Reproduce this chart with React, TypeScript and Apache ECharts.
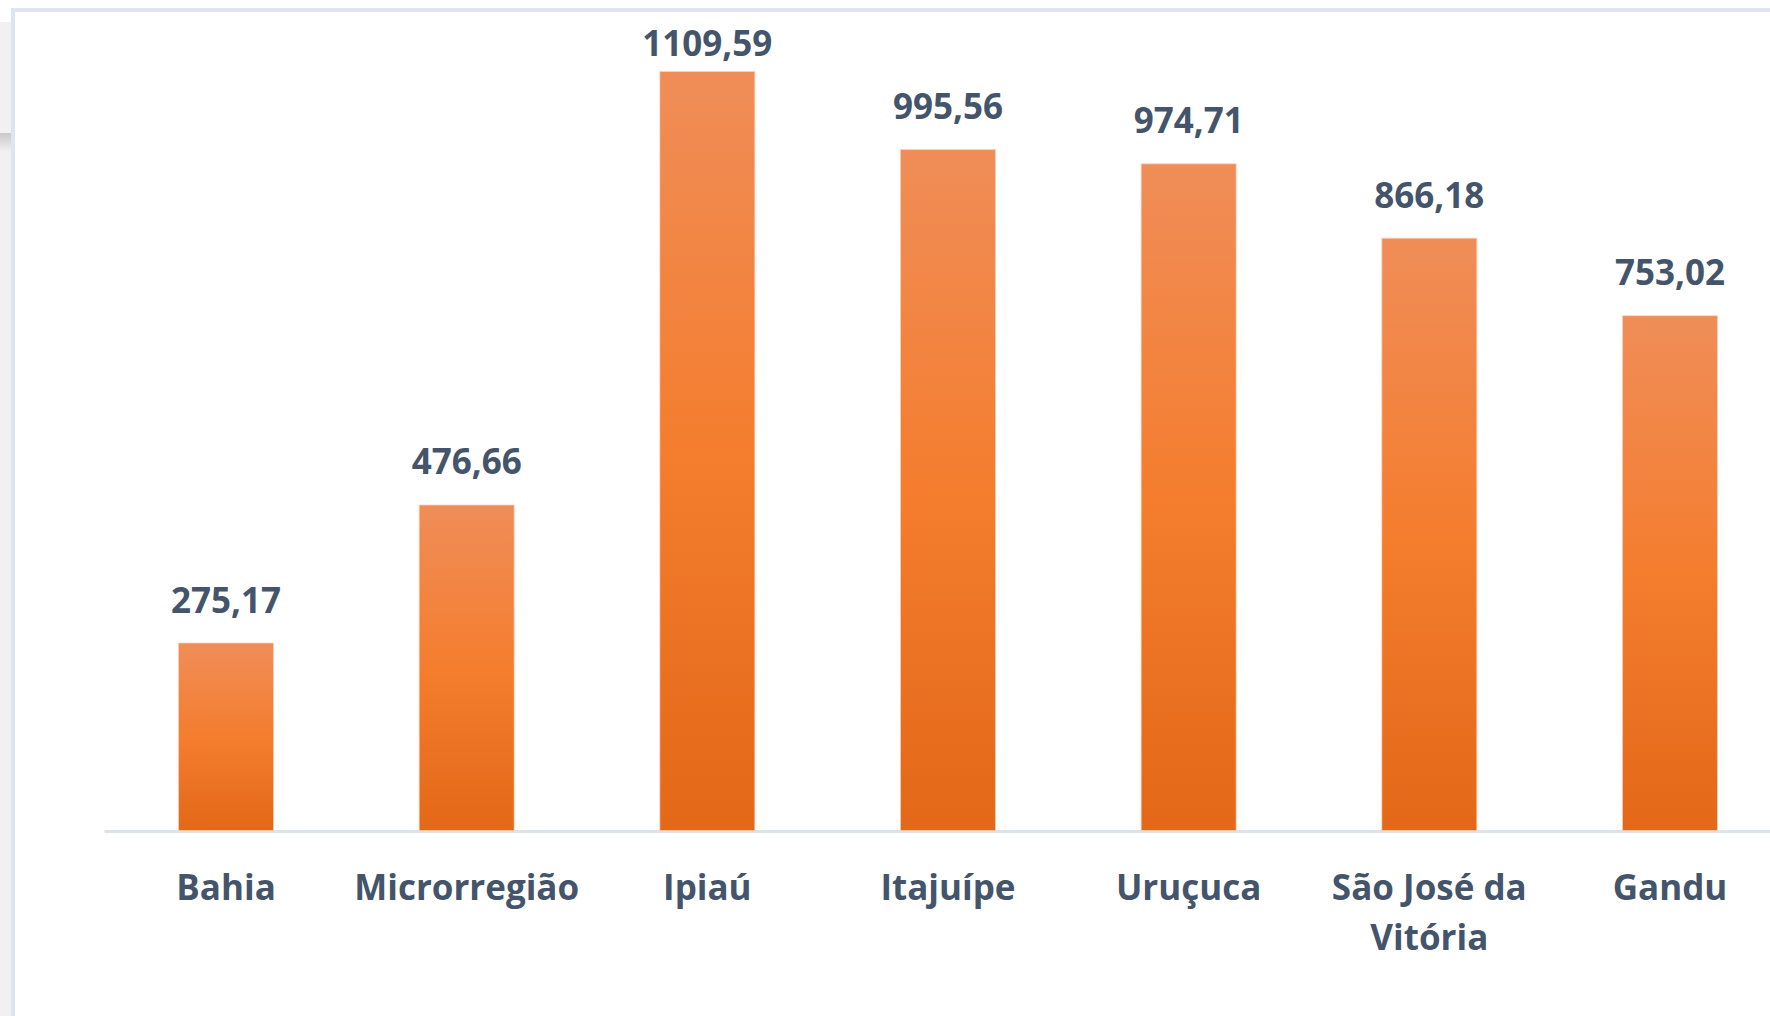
import React, { useEffect, useRef } from "react";
import * as echarts from "echarts";

const categories = ["Bahia", "Microrregião", "Ipiaú", "Itajuípe", "Uruçuca", "São José da\nVitória", "Gandu"];
const values = [275.17, 476.66, 1109.59, 995.56, 974.71, 866.18, 753.02];

const TEXT = "#44546A";
const FONT = "Open Sans";
const CHART_W = 1800;

export default function App() {
  const ref = useRef<HTMLDivElement>(null);
  useEffect(() => {
    if (!ref.current) return;
    const chart = echarts.init(ref.current, undefined, { renderer: "svg" });
    const maxIdx = values.indexOf(Math.max(...values));
    chart.setOption({
      animation: false,
      backgroundColor: "#ffffff",
      grid: { left: 105.7, right: CHART_W - 1790.3, top: 9, bottom: 185, containLabel: false },
      xAxis: {
        type: "category",
        data: categories,
        axisLine: { show: true, lineStyle: { color: "#dde3ea", width: 3 } },
        axisTick: { show: false },
        axisLabel: {
          interval: 0,
          margin: 30,
          color: TEXT,
          fontFamily: FONT,
          fontWeight: "bold",
          fontSize: 35,
          lineHeight: 50,
        },
      },
      yAxis: {
        type: "value",
        min: 0,
        max: 1200,
        show: false,
        splitLine: { show: false },
      },
      graphic: [
        { type: "rect", shape: { x: 0, y: 22, width: 11, height: 1000 }, style: { fill: "#f1f1f1" }, z: 100 },
        {
          type: "rect",
          shape: { x: 0, y: 133, width: 11, height: 18 },
          style: {
            fill: new echarts.graphic.LinearGradient(0, 0, 0, 1, [
              { offset: 0, color: "#c9c9c9" },
              { offset: 1, color: "#efefef" },
            ]),
          },
          z: 100,
        },
        { type: "rect", shape: { x: 11, y: 8, width: 1800, height: 4 }, style: { fill: "#dfe5ee" }, z: 100 },
        { type: "rect", shape: { x: 11, y: 8, width: 4, height: 1010 }, style: { fill: "#dfe5ee" }, z: 100 },
      ],
      series: [
        {
          type: "bar",
          data: values.map((v, i) =>
            i === maxIdx ? { value: v, label: { distance: 10 } } : v
          ),
          barWidth: 96,
          itemStyle: {
            color: new echarts.graphic.LinearGradient(0, 0, 0, 1, [
              { offset: 0, color: "#F08D58" },
              { offset: 0.5, color: "#F47D2E" },
              { offset: 1, color: "#E36818" },
            ]),
            borderColor: "rgba(255,210,185,0.7)",
            borderWidth: 1,
          },
          label: {
            show: true,
            position: "top",
            distance: 25,
            color: TEXT,
            fontFamily: FONT,
            fontWeight: "bold",
            fontSize: 35,
            lineHeight: 37,
            formatter: (p: any) => Number(p.value).toFixed(2).replace(".", ","),
          },
        },
      ],
    });
    return () => chart.dispose();
  }, []);
  return (
    <div style={{ position: "fixed", left: 0, top: 0, width: 1770, height: 1016, overflow: "hidden" }}>
      <div ref={ref} style={{ width: CHART_W, height: 1016 }} />
    </div>
  );
}
